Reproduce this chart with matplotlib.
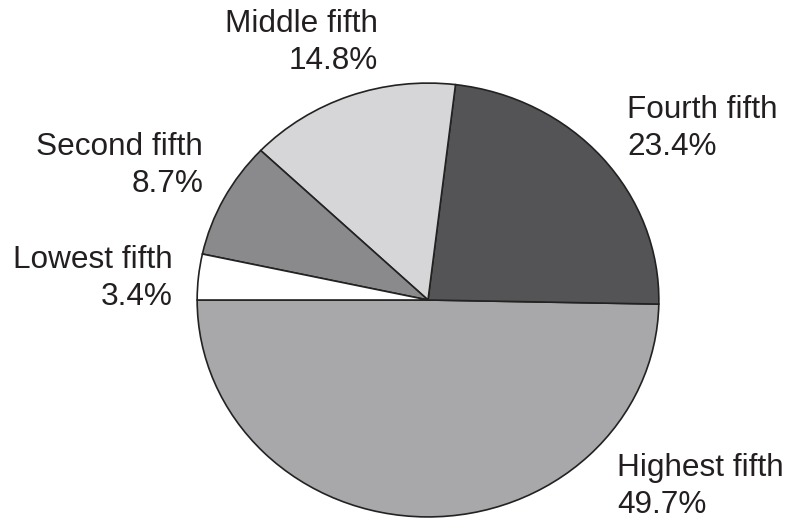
import matplotlib.pyplot as plt

# share of income by quintile
labels = ['Highest fifth', 'Fourth fifth', 'Middle fifth', 'Second fifth', 'Lowest fifth']
shares = [49.7, 23.4, 14.8, 8.7, 3.4]
colors = ['#a8a8aa', '#545456', '#d6d6d8', '#8a8a8c', '#ffffff']

W, H = 788, 522
fig = plt.figure(figsize=(W / 100, H / 100), dpi=100)
plt.rcParams['font.family'] = ['Liberation Sans', 'DejaVu Sans']

# pie box in pixels (left, right, top, bottom)
px_l, px_r, px_t, px_b = 196, 660, 82, 518
ax = fig.add_axes([px_l / W, 1 - px_b / H, (px_r - px_l) / W, (px_b - px_t) / H])
ax.pie(shares, colors=colors, startangle=180, counterclock=True,
       wedgeprops=dict(edgecolor='#222222', linewidth=1.2))
ax.set_aspect('auto')
ax.set_xlim(-1.005, 1.005)
ax.set_ylim(-1.005, 1.005)
ax.axis('off')

# label positions (x, baseline of first line, alignment) in pixels
label_pos = {
    'Highest fifth': (617, 476, 'left'),
    'Fourth fifth': (627, 118, 'left'),
    'Middle fifth': (378, 32, 'right'),
    'Second fifth': (203, 155, 'right'),
    'Lowest fifth': (173, 268, 'right'),
}
line_gap = 37
for lab, val in zip(labels, shares):
    x, y, ha = label_pos[lab]
    fig.text(x / W, 1 - y / H, lab, ha=ha, va='baseline', fontsize=22.7, color='#231f20')
    fig.text(x / W, 1 - (y + line_gap) / H, '%.1f%%' % val, ha=ha, va='baseline',
             fontsize=22.7, color='#231f20')

fig.savefig('out.png', dpi=100, facecolor='white')
